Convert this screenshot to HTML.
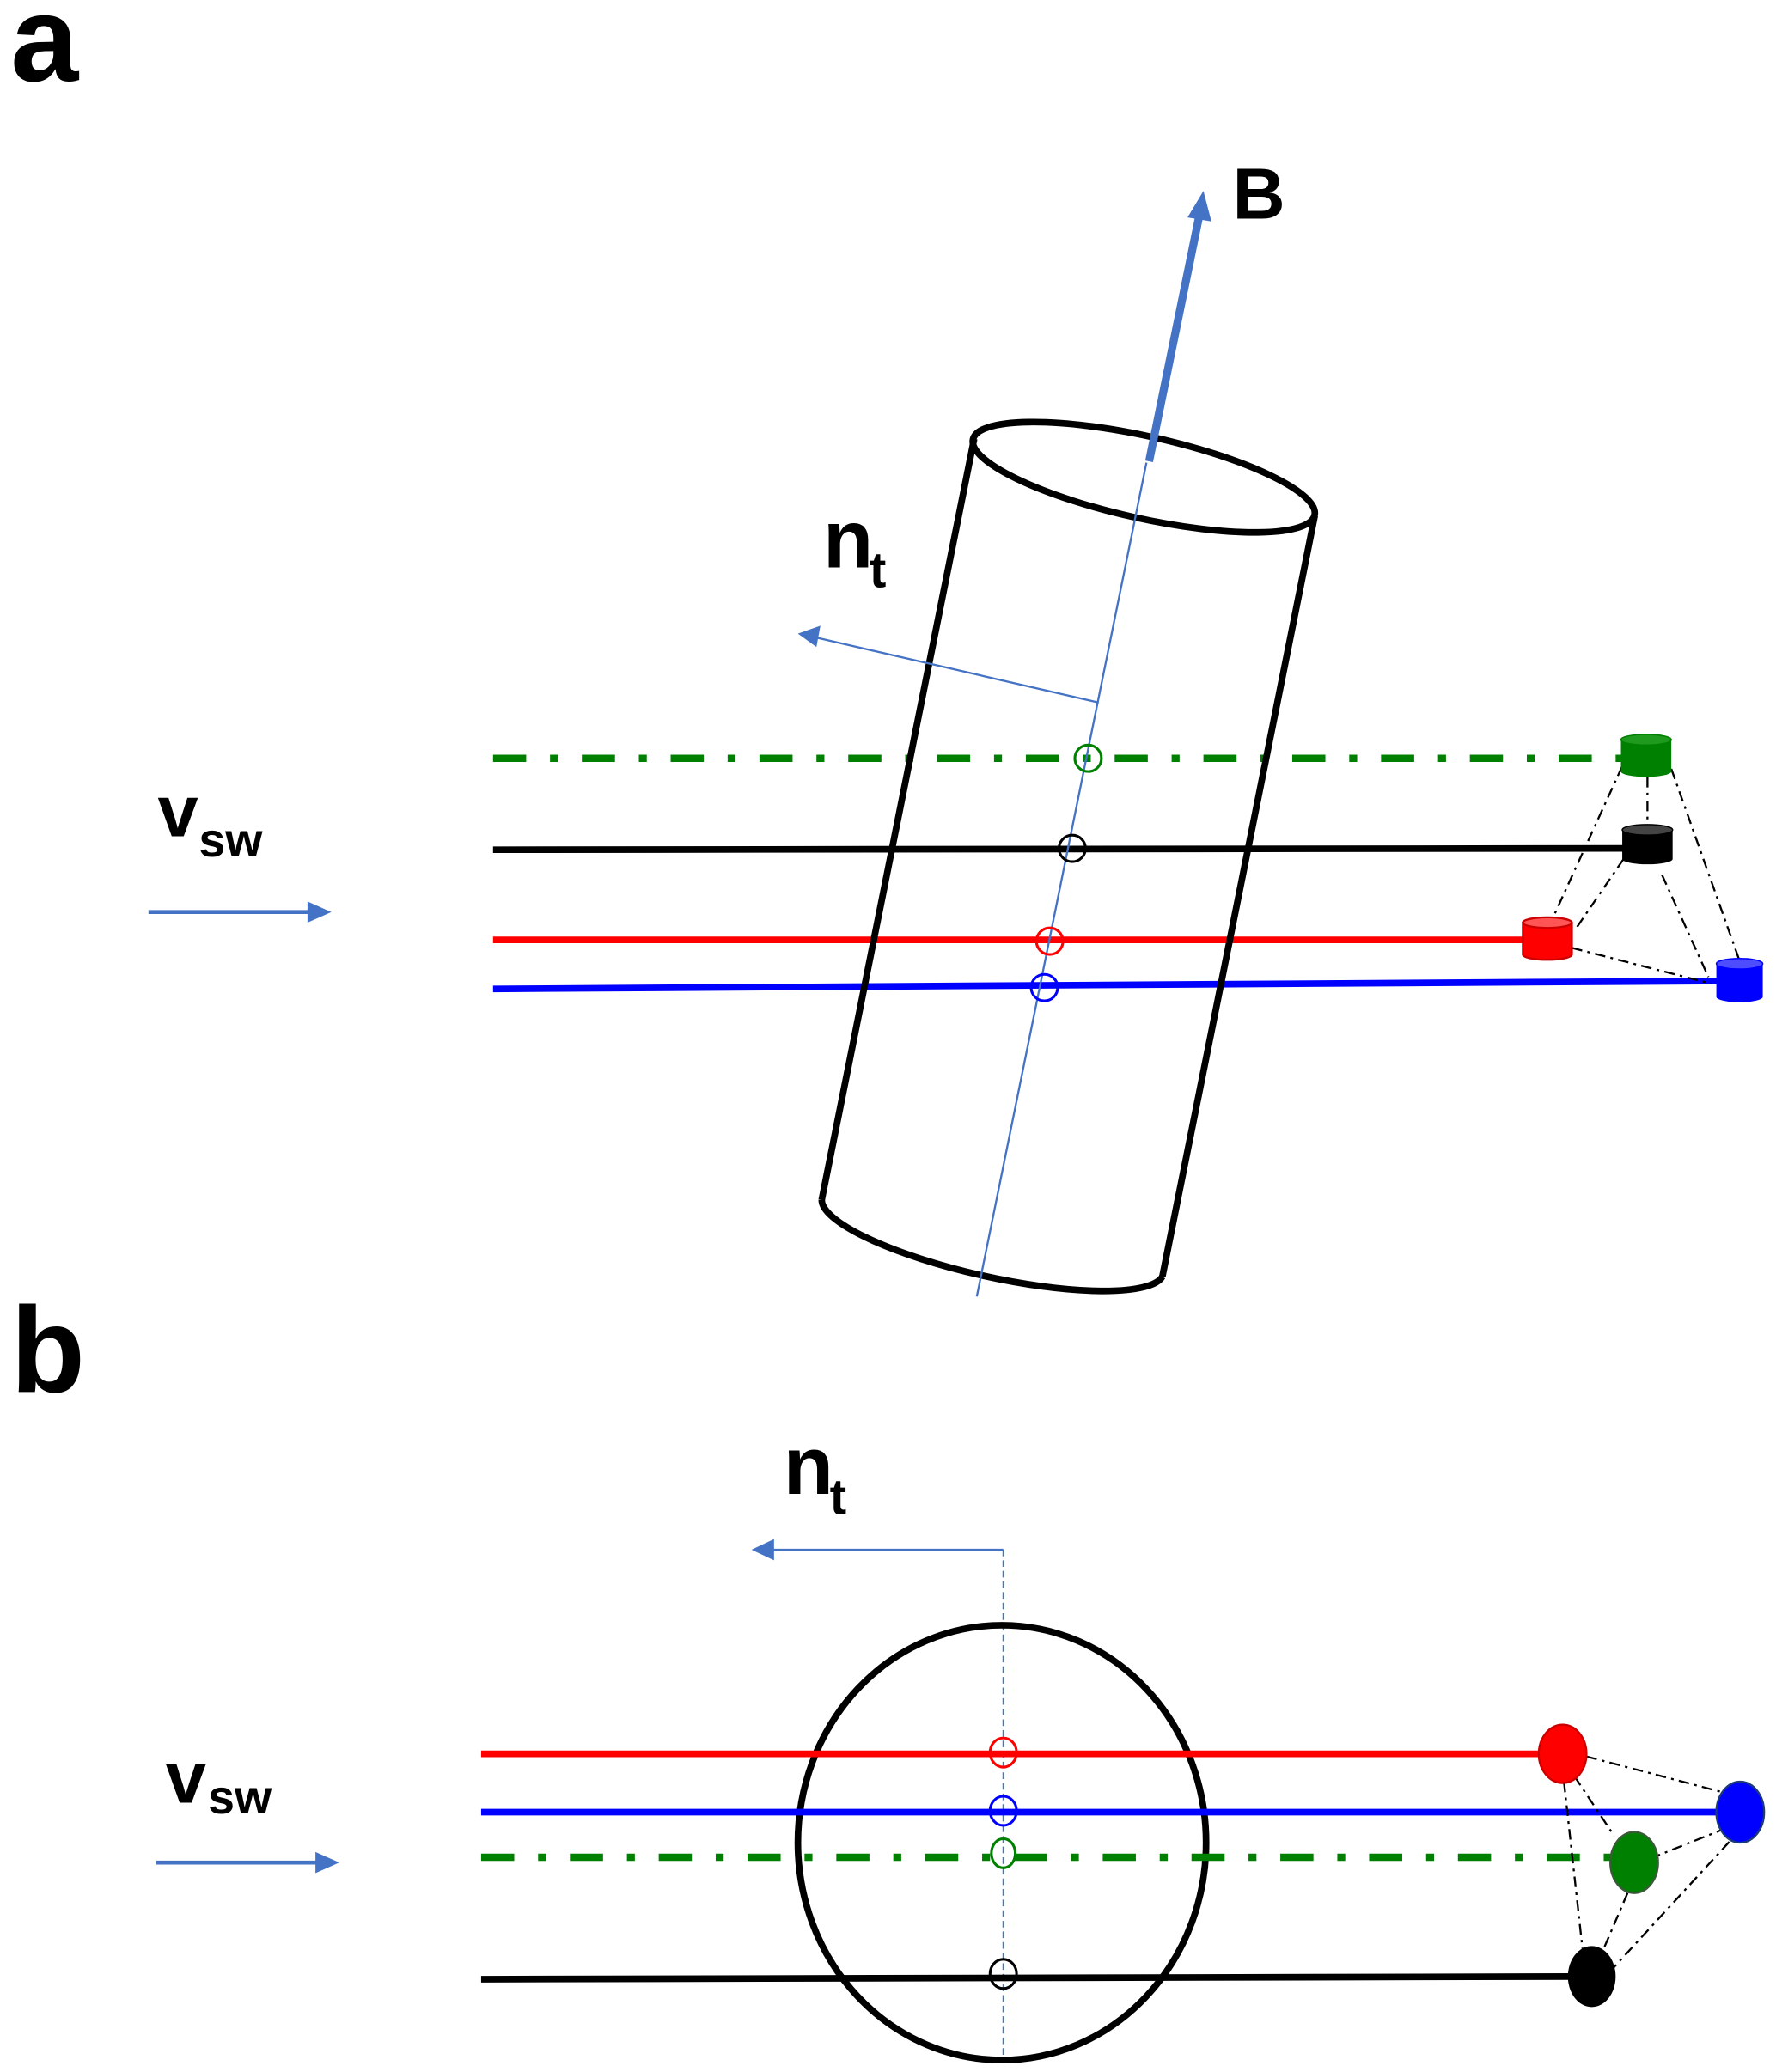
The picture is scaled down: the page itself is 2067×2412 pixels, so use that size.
<!DOCTYPE html>
<html><head><meta charset="utf-8"><style>html,body{margin:0;padding:0;background:#fff}svg{display:block}</style></head>
<body>
<svg width="2067" height="2412" viewBox="0 0 1340 1563" preserveAspectRatio="none" xmlns="http://www.w3.org/2000/svg" font-family="'Liberation Sans', Arial, sans-serif" font-weight="bold">
<defs>
<marker id="ah" markerWidth="10" markerHeight="10" refX="9" refY="5" orient="auto" markerUnits="userSpaceOnUse" viewBox="0 0 10 10"><path d="M0,0 L10,5 L0,10 z" fill="#4472c4"/></marker>
</defs>
<rect width="1340" height="1563" fill="#fff"/>
<!-- labels -->
<text x="8" y="61" font-size="92">a</text>
<text x="8" y="1050" font-size="92">b</text>

<!-- Part a -->
<text x="119" y="631" font-size="55">v</text>
<text x="150" y="646" font-size="36">sw</text>
<line x1="112" y1="688" x2="234" y2="688" stroke="#4472c4" stroke-width="3"/>
<path d="M232,680 L250,688 L232,696 z" fill="#4472c4"/>

<!-- lines -->
<line x1="372" y1="572" x2="1224" y2="572" stroke="#008000" stroke-width="5.5" stroke-dasharray="25,18,6,18"/>
<line x1="372" y1="641" x2="1230" y2="640" stroke="#000" stroke-width="5"/>
<line x1="372" y1="709" x2="1152" y2="709" stroke="#f00" stroke-width="5"/>
<line x1="372" y1="746" x2="1298" y2="740" stroke="#00f" stroke-width="5"/>

<!-- cylinder -->
<g fill="none" stroke="#000" stroke-width="5">
<ellipse cx="863" cy="360" rx="132" ry="31" transform="rotate(12.5 863 360)"/>
<line x1="735" y1="331" x2="620" y2="905"/>
<line x1="992" y1="389" x2="877" y2="963"/>
<path d="M620,905 A132,31 12.5 0 0 877,963"/>
</g>
<!-- axis -->
<line x1="865" y1="349" x2="737" y2="978" stroke="#4472c4" stroke-width="1.5"/>
<line x1="867" y1="348" x2="905" y2="162" stroke="#4472c4" stroke-width="6"/>
<path d="M908,144 L896,164 L914,167 z" fill="#4472c4"/>
<text x="930" y="165" font-size="55">B</text>
<!-- nt arrow -->
<line x1="829" y1="530" x2="616" y2="481" stroke="#4472c4" stroke-width="1.5"/>
<path d="M602,478 L619,472 L616,488 z" fill="#4472c4"/>
<text x="621" y="428" font-size="62">n</text>
<text x="656" y="443" font-size="38">t</text>

<!-- small circles -->
<g fill="none" stroke-width="2">
<circle cx="821" cy="572" r="10" stroke="#008000"/>
<circle cx="809" cy="640" r="10" stroke="#000"/>
<circle cx="792" cy="710" r="10" stroke="#f00"/>
<circle cx="788" cy="745" r="10" stroke="#00f"/>
</g>

<!-- connectors a -->
<g stroke="#000" stroke-width="1.5" stroke-dasharray="8,4,2,4" fill="none">
<line x1="1224" y1="578" x2="1170" y2="696"/>
<line x1="1243" y1="586" x2="1243" y2="624"/>
<line x1="1261" y1="580" x2="1314" y2="729"/>
<line x1="1225" y1="648" x2="1188" y2="702"/>
<line x1="1186" y1="715" x2="1291" y2="742"/>
<line x1="1254" y1="660" x2="1289" y2="737"/>
</g>
<!-- cylinders small -->
<g>
<path d="M1223,558 L1223,582 A19,4 0 0 0 1261,582 L1261,558 z" fill="#008000"/>
<ellipse cx="1242" cy="558" rx="19" ry="4" fill="#1f9a1f" stroke="#008000" stroke-width="1"/>
<path d="M1224,626 L1224,648 A19,4 0 0 0 1262,648 L1262,626 z" fill="#000"/>
<ellipse cx="1243" cy="626" rx="19" ry="4" fill="#444" stroke="#000" stroke-width="1"/>
<path d="M1149,696 L1149,720 A18.5,4 0 0 0 1186,720 L1186,696 z" fill="#f00" stroke="#c00" stroke-width="1.5"/>
<ellipse cx="1167.5" cy="696" rx="18.5" ry="4" fill="#ff5555" stroke="#c00" stroke-width="1.5"/>
<path d="M1295,727 L1295,752 A17.5,4 0 0 0 1330,752 L1330,727 z" fill="#00f"/>
<ellipse cx="1312.5" cy="727" rx="17.5" ry="4" fill="#4d4dff" stroke="#00f" stroke-width="1"/>
</g>

<!-- Part b -->
<text x="125" y="1360" font-size="55">v</text>
<text x="157" y="1368" font-size="36">sw</text>
<line x1="118" y1="1405" x2="240" y2="1405" stroke="#4472c4" stroke-width="3"/>
<path d="M238,1397 L256,1405 L238,1413 z" fill="#4472c4"/>

<text x="591" y="1127" font-size="62">n</text>
<text x="626" y="1142" font-size="38">t</text>
<line x1="757" y1="1169" x2="582" y2="1169" stroke="#4472c4" stroke-width="1.5"/>
<path d="M567,1169 L584,1161 L584,1177 z" fill="#4472c4"/>
<line x1="757" y1="1169" x2="757" y2="1553" stroke="#4472c4" stroke-width="1.2" stroke-dasharray="5,3"/>

<ellipse cx="756" cy="1390" rx="154" ry="164" fill="none" stroke="#000" stroke-width="5"/>

<line x1="363" y1="1323" x2="1165" y2="1323" stroke="#f00" stroke-width="5"/>
<line x1="363" y1="1367" x2="1298" y2="1367" stroke="#00f" stroke-width="5"/>
<line x1="363" y1="1401" x2="1216" y2="1401" stroke="#008000" stroke-width="5.5" stroke-dasharray="25,18,6,18"/>
<line x1="363" y1="1493" x2="1186" y2="1491" stroke="#000" stroke-width="5"/>

<g fill="none" stroke-width="2">
<ellipse cx="757" cy="1322" rx="10" ry="11" stroke="#f00"/>
<ellipse cx="757" cy="1366" rx="10" ry="11" stroke="#00f"/>
<ellipse cx="757" cy="1398" rx="9" ry="11" stroke="#008000"/>
<ellipse cx="757" cy="1489" rx="10" ry="11" stroke="#000"/>
</g>

<g stroke="#000" stroke-width="1.5" stroke-dasharray="8,4,2,4" fill="none">
<line x1="1197" y1="1325" x2="1300" y2="1352"/>
<line x1="1188" y1="1340" x2="1218" y2="1385"/>
<line x1="1180" y1="1344" x2="1194" y2="1470"/>
<line x1="1228" y1="1428" x2="1210" y2="1470"/>
<line x1="1245" y1="1402" x2="1300" y2="1380"/>
<line x1="1214" y1="1488" x2="1306" y2="1388"/>
</g>
<ellipse cx="1179" cy="1323" rx="18" ry="22" fill="#f00" stroke="#c00" stroke-width="1.5"/>
<ellipse cx="1313" cy="1367" rx="18" ry="23" fill="#00f" stroke="#1a3a7a" stroke-width="1.5"/>
<ellipse cx="1233" cy="1405" rx="18" ry="23" fill="#008000" stroke="#3a5a3a" stroke-width="1.5"/>
<ellipse cx="1201" cy="1491" rx="18" ry="23" fill="#000"/>
</svg>
</body></html>
